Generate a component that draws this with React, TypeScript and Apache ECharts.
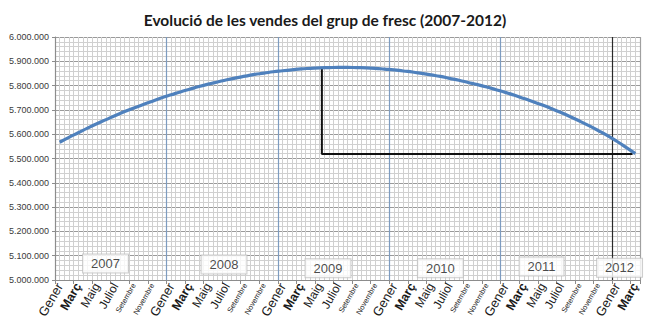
import React, { useEffect, useRef } from "react";
import * as echarts from "echarts";

const monthNames = ["Gener", "Febrer", "Març", "Abril", "Maig", "Juny", "Juliol", "Agost", "Setembre", "Octubre", "Novembre", "Desembre"];
const years = [2007, 2008, 2009, 2010, 2011, 2012];
const categories: string[] = [];
years.forEach((y) => monthNames.forEach((m, i) => { if (y < 2012 || i < 3) categories.push(m); }));

const sales = [
  5567000, 5587000, 5606000, 5625000, 5643000, 5660000, 5677000, 5693000, 5708000, 5722000, 5736000, 5750000,
  5762000, 5774000, 5785000, 5796000, 5806000, 5815000, 5824000, 5832000, 5839000, 5846000, 5851000, 5857000,
  5861000, 5865000, 5869000, 5871000, 5873000, 5874000, 5875000, 5875000, 5874000, 5873000, 5871000, 5868000,
  5865000, 5860000, 5856000, 5850000, 5844000, 5838000, 5830000, 5822000, 5813000, 5804000, 5794000, 5783000,
  5772000, 5760000, 5747000, 5734000, 5720000, 5705000, 5689000, 5672000, 5654000, 5635000, 5615000, 5594000,
  5571000, 5546000, 5520000,
];

// annotation polyline (peak -> last value), in month-position units
const markerX = [28.74, 28.74, 62.2];
const markerY = [5872000, 5519000, 5519000];

// year boxes
const yearLabels = ["2007", "2008", "2009", "2010", "2011", "2012"];
const yearBoxX = [5.44, 18.2, 29.4, 41.5, 52.4, 60.8];
const yearBoxY = [5068000, 5064000, 5048000, 5048000, 5056000, 5050000];

const labelStyleKey: Record<string, string> = {
  Gener: "g", "Març": "m", Maig: "mg", Juliol: "j", Setembre: "s", Novembre: "s",
};

const fmt = (v: number) => String(v).replace(/\B(?=(\d{3})+(?!\d))/g, ".");

export default function App() {
  const ref = useRef<HTMLDivElement>(null);
  useEffect(() => {
    document.body.style.margin = "0";
    const chart = echarts.init(ref.current!, null, { renderer: "svg" });
    const font = "Liberation Sans";
    const grid = { left: 55, right: 10, top: 37, bottom: 45 };
    chart.setOption({
      animation: false,
      backgroundColor: "#ffffff",
      title: {
        text: "Evolució de les vendes del grup de fresc (2007-2012)",
        left: "center",
        top: 7,
        textStyle: { fontFamily: "Lato", fontWeight: "bold", fontSize: 15.5, color: "#1a1a1a" },
      },
      grid,
      xAxis: [
        {
          type: "category",
          data: categories,
          boundaryGap: true,
          axisLine: { show: true, lineStyle: { color: "#8c8c8c" } },
          axisTick: { show: true, interval: 1, length: 4, lineStyle: { color: "#8c8c8c" } },
          splitLine: { show: false },
          axisLabel: {
            interval: 1,
            rotate: 60,
            margin: 4,
            fontFamily: font,
            color: "#1a1a1a",
            formatter: (v: string) => `{${labelStyleKey[v] || "s"}|${v}}`,
            rich: {
              g: { fontSize: 13, fontFamily: font, color: "#1a1a1a" },
              m: { fontSize: 12.5, fontFamily: font, fontWeight: "bold", color: "#1a1a1a" },
              mg: { fontSize: 12, fontFamily: font, color: "#1a1a1a" },
              j: { fontSize: 12, fontFamily: font, color: "#1a1a1a" },
              s: { fontSize: 7.5, fontFamily: font, color: "#1a1a1a" },
            },
          },
        },
        {
          type: "value",
          min: 0,
          max: 63,
          interval: 0.5,
          position: "bottom",
          axisLine: { show: false },
          axisTick: { show: false },
          axisLabel: { show: false },
          splitLine: { show: true, lineStyle: { color: "#d0d0d0", width: 1 } },
        },
        {
          type: "value",
          min: 0,
          max: 63,
          interval: 12,
          position: "bottom",
          axisLine: { show: false },
          axisTick: { show: false },
          axisLabel: { show: false },
          splitLine: {
            show: true,
            lineStyle: {
              color: ["#8c8c8c", "#7d9cc0", "#7d9cc0", "#7d9cc0", "#7d9cc0", "#2a2a2a", "#a0a0a0"],
              width: 1.2,
            },
          },
        },
      ],
      yAxis: {
        type: "value",
        min: 5000000,
        max: 6000000,
        interval: 100000,
        axisLine: { show: true, lineStyle: { color: "#8c8c8c" } },
        axisTick: { show: true, length: 3, lineStyle: { color: "#8c8c8c" } },
        axisLabel: { fontFamily: font, fontSize: 9, color: "#3a3a3a", margin: 6, formatter: (v: number) => fmt(v) },
        splitLine: { show: true, lineStyle: { color: "#9a9a9a", width: 1.2 } },
        minorTick: { show: false, splitNumber: 5 },
        minorSplitLine: { show: true, lineStyle: { color: "#d0d0d0", width: 1 } },
      },
      series: [
        {
          type: "line",
          xAxisIndex: 0,
          data: sales,
          smooth: true,
          symbol: "none",
          lineStyle: { color: "#4f81bd", width: 3.2 },
          z: 5,
        },
        {
          type: "line",
          xAxisIndex: 1,
          data: markerX.map((x, i) => [x, markerY[i]]),
          symbol: "none",
          lineStyle: { color: "#111", width: 2 },
          z: 4,
        },
        {
          type: "scatter",
          xAxisIndex: 1,
          symbolSize: 0,
          data: yearLabels.map((n, i) => ({ name: n, value: [yearBoxX[i], yearBoxY[i]] })),
          label: {
            show: true,
            position: "inside",
            formatter: (p: any) => p.name,
            fontFamily: font,
            fontSize: 13,
            color: "#1a1a1a",
            backgroundColor: "#ffffff",
            borderColor: "#c0c0c0",
            borderWidth: 1,
            padding: [3, 8, 2, 8],
          },
          z: 6,
        },
      ],
    });
    return () => chart.dispose();
  }, []);
  return <div ref={ref} style={{ width: 650, height: 325 }} />;
}
